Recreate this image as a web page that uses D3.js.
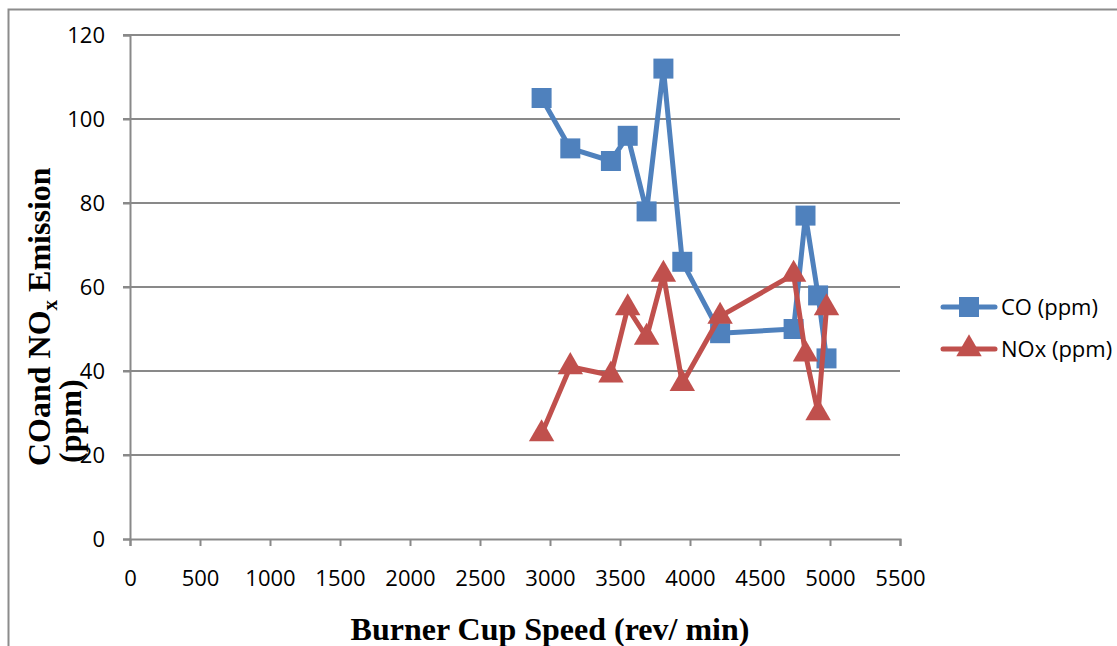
<!DOCTYPE html>
<html>
<head>
<meta charset="utf-8">
<script src="https://cdn.jsdelivr.net/npm/d3@7/dist/d3.min.js"></script>
<style>
  body { margin: 0; background: #fff; }
  svg { display: block; }
</style>
</head>
<body>
<svg id="chart" width="1117" height="646"></svg>
<script>
// data
var speed = [2940, 3145, 3435, 3555, 3690, 3810, 3945, 4215, 4740, 4825, 4915, 4975];
var coPpm = [105, 93, 90, 96, 78, 112, 66, 49, 50, 77, 58, 43];
var noxPpm = [25, 41, 39, 55, 48, 63, 37, 53, 63, 44, 30, 55];
var seriesNames = ["CO (ppm)", "NOx (ppm)"];
var xTicks = [0, 500, 1000, 1500, 2000, 2500, 3000, 3500, 4000, 4500, 5000, 5500];
var yTicks = [0, 20, 40, 60, 80, 100, 120];

var blue = "#4f81bd", red = "#c0504d", grid = "#898989";

var svg = d3.select("#chart");

// outer frame
svg.append("rect")
    .attr("x", 8.5).attr("y", 9.5)
    .attr("width", 1130).attr("height", 660)
    .attr("fill", "none").attr("stroke", "#8c8c8c").attr("stroke-width", 2);

var x = d3.scaleLinear().domain([0, 5500]).range([130, 900]);
var y = d3.scaleLinear().domain([0, 120]).range([539, 35]);

// gridlines
svg.append("g").selectAll("line")
    .data(yTicks.filter(function(d){ return d > 0; }))
    .enter().append("line")
    .attr("x1", 123).attr("x2", 900)
    .attr("y1", function(d){ return y(d); })
    .attr("y2", function(d){ return y(d); })
    .attr("stroke", grid).attr("stroke-width", 2);

// y axis
var yAxis = svg.append("g")
    .attr("transform", "translate(130,0)")
    .call(d3.axisLeft(y).tickValues(yTicks).tickSize(7).tickPadding(18));
yAxis.select(".domain").attr("stroke", grid).attr("stroke-width", 2);
yAxis.selectAll(".tick line").attr("stroke", grid).attr("stroke-width", 2);
yAxis.selectAll("text")
    .attr("font-family", "'Open Sans', sans-serif")
    .attr("font-size", "22px").attr("fill", "#000");

// x axis
var xAxis = svg.append("g")
    .attr("transform", "translate(0,539)")
    .call(d3.axisBottom(x).tickValues(xTicks).tickSize(7).tickPadding(24).tickFormat(d3.format("d")));
xAxis.select(".domain").attr("stroke", grid).attr("stroke-width", 2);
xAxis.selectAll(".tick line").attr("stroke", grid).attr("stroke-width", 2);
xAxis.selectAll("text")
    .attr("font-family", "'Open Sans', sans-serif")
    .attr("font-size", "22px").attr("fill", "#000");

// series
var pts = function(vals){
    return speed.map(function(s, i){ return [s, vals[i]]; });
};
var line = d3.line()
    .x(function(d){ return x(d[0]); })
    .y(function(d){ return y(d[1]); });

var square = d3.symbol().type(d3.symbolSquare).size(400);
var tri = d3.symbol().type(d3.symbolTriangle).size(280);

function drawSeries(vals, color, sym) {
    svg.append("path")
        .datum(pts(vals))
        .attr("d", line)
        .attr("fill", "none")
        .attr("stroke", color)
        .attr("stroke-width", 5)
        .attr("stroke-linejoin", "round");
    svg.append("g").selectAll("path")
        .data(pts(vals))
        .enter().append("path")
        .attr("d", sym)
        .attr("transform", function(d){ return "translate(" + x(d[0]) + "," + y(d[1]) + ")"; })
        .attr("fill", color);
}
drawSeries(coPpm, blue, square);
drawSeries(noxPpm, red, tri);

// legend
var legend = svg.append("g");
var legendRows = [
    { name: seriesNames[0], color: blue, sym: square, y: 307 },
    { name: seriesNames[1], color: red, sym: tri, y: 349 }
];
legendRows.forEach(function(r){
    legend.append("line")
        .attr("x1", 943).attr("x2", 995)
        .attr("y1", r.y).attr("y2", r.y)
        .attr("stroke", r.color).attr("stroke-width", 5)
        .attr("stroke-linecap", "round");
    legend.append("path")
        .attr("d", r.sym)
        .attr("transform", "translate(969," + r.y + ")")
        .attr("fill", r.color);
    legend.append("text")
        .attr("x", 1001).attr("y", r.y)
        .attr("dy", "0.36em")
        .attr("font-family", "'Open Sans', sans-serif")
        .attr("font-size", "22px")
        .text(r.name);
});

// axis titles
var yTitle = svg.append("text")
    .attr("transform", "translate(50,466) rotate(-90)")
    .attr("font-family", "'Liberation Serif', 'Times New Roman', serif")
    .attr("font-weight", "bold")
    .attr("font-size", "32px");
yTitle.append("tspan").text("COand NO");
yTitle.append("tspan").attr("font-size", "21px").attr("dy", "7").text("x");
yTitle.append("tspan").attr("dy", "-7").text(" Emission");
svg.append("text")
    .attr("transform", "translate(81,463) rotate(-90)")
    .attr("font-family", "'Liberation Serif', 'Times New Roman', serif")
    .attr("font-weight", "bold")
    .attr("font-size", "32px")
    .text("(ppm)");

svg.append("text")
    .attr("x", 550).attr("y", 640)
    .attr("text-anchor", "middle")
    .attr("font-family", "'Liberation Serif', 'Times New Roman', serif")
    .attr("font-weight", "bold")
    .attr("font-size", "32px")
    .text("Burner Cup Speed (rev/ min)");
</script>
</body>
</html>
